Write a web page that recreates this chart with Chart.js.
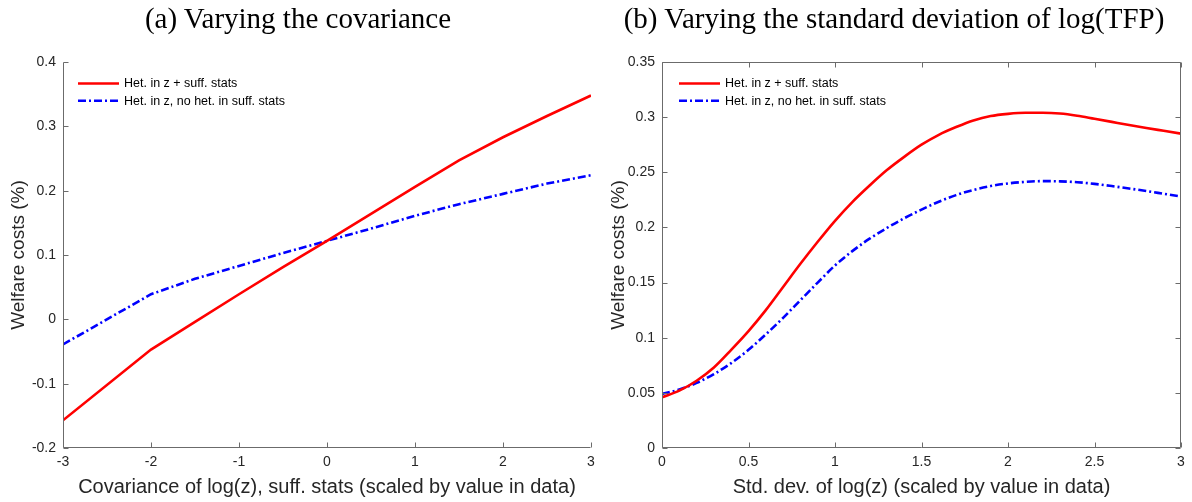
<!DOCTYPE html>
<html>
<head>
<meta charset="utf-8">
<script src="https://cdn.jsdelivr.net/npm/chart.js@4.4.1/dist/chart.umd.min.js"></script>
<style>
  html, body { margin: 0; padding: 0; background: #fff; }
  #figura { position: relative; width: 1192px; height: 502px; overflow: hidden; }
  .panel { position: absolute; top: 0; height: 502px; }
  .titulo { position: absolute; top: 0; width: 596px; text-align: center; font-family: "Liberation Serif", "Times New Roman", serif; font-size: 29px; line-height: 36px; color: #000; }
</style>
</head>
<body>
<div id="figura">
  <div class="panel" style="left:0; width:602px"><canvas id="graficaCov" width="602" height="502"></canvas></div>
  <div class="panel" style="left:596px; width:596px"><canvas id="graficaStd" width="596" height="502"></canvas></div>
  <div class="titulo" style="left:0">(a) Varying the covariance</div>
  <div class="titulo" style="left:596px">(b) Varying the standard deviation of log(TFP)</div>
</div>
<script>
// --- DATOS ---
const LABEL_SUFF = 'Het. in z + suff. stats';
const LABEL_NOSUFF = 'Het. in z, no het. in suff. stats';

// (a) covarianza
const covX = [-3, -2, -1.5, -1, -0.5, 0, 0.5, 1, 1.5, 2, 2.5, 3];
const covHetSuff = [-0.157, -0.047, -0.004, 0.039, 0.081, 0.122, 0.164, 0.206, 0.247, 0.283, 0.316, 0.348];
const covHetNoSuff = [-0.039, 0.039, 0.063, 0.083, 0.103, 0.122, 0.141, 0.161, 0.179, 0.195, 0.211, 0.224];

// (b) desviación estándar
const stdX = [0, 0.1, 0.2, 0.3, 0.4, 0.5, 0.6, 0.7, 0.8, 0.9, 1, 1.1, 1.2, 1.3, 1.4, 1.5,
              1.6, 1.7, 1.8, 1.9, 2, 2.1, 2.2, 2.3, 2.4, 2.5, 2.6, 2.7, 2.8, 2.9, 3];
const stdHetSuff = [0.046, 0.052, 0.061, 0.073, 0.089, 0.106, 0.125, 0.146, 0.167, 0.187, 0.206,
                    0.223, 0.238, 0.252, 0.264, 0.275, 0.284, 0.291, 0.297, 0.301, 0.303,
                    0.304, 0.304, 0.3033, 0.3013, 0.2985, 0.2957, 0.2929, 0.2902, 0.2876, 0.285];
const stdHetNoSuff = [0.049, 0.053, 0.059, 0.067, 0.077, 0.089, 0.103, 0.118, 0.134, 0.150, 0.1655,
                      0.1785, 0.1898, 0.1995, 0.2083, 0.2162, 0.2233, 0.2293, 0.2340, 0.2375, 0.2399,
                      0.2413, 0.242, 0.2418, 0.241, 0.2395, 0.2375, 0.2353, 0.233, 0.2305, 0.228];

// --- ESTILO ---
const FUENTE = '"Liberation Sans", Arial, Helvetica, sans-serif';
const GRIS_TEXTO = '#262626';
const GRIS_EJE = '#6b6b6b';
Chart.defaults.font.family = FUENTE;
Chart.defaults.color = GRIS_TEXTO;

const formatoTick = v => String(+(+v).toFixed(2));

// Ejes estilo MATLAB (ticks hacia dentro) + leyenda dentro del área
const ejesMatlab = {
    id: 'ejesMatlab',
    afterDatasetsDraw(chart, args, opts) {
        const { ctx, chartArea: a, scales: { x, y } } = chart;
        const L = Math.round(a.left) + 0.5, R = Math.round(a.right) - 0.5;
        const T = Math.round(a.top) + 0.5, B = Math.round(a.bottom) - 0.5;
        const tl = 5;
        ctx.save();
        ctx.strokeStyle = GRIS_EJE;
        ctx.lineWidth = 1;
        ctx.beginPath();
        ctx.moveTo(L, T); ctx.lineTo(L, B); ctx.lineTo(R, B);
        if (opts.caja) { ctx.lineTo(R, T); ctx.lineTo(L, T); }
        x.ticks.forEach(t => {
            const px = Math.round(x.getPixelForValue(t.value)) + 0.5;
            ctx.moveTo(px, B); ctx.lineTo(px, B - tl);
            if (opts.caja) { ctx.moveTo(px, T); ctx.lineTo(px, T + tl); }
        });
        y.ticks.forEach(t => {
            const py = Math.round(y.getPixelForValue(t.value)) + 0.5;
            ctx.moveTo(L, py); ctx.lineTo(L + tl, py);
            if (opts.caja) { ctx.moveTo(R, py); ctx.lineTo(R - tl, py); }
        });
        ctx.stroke();

        // leyenda
        ctx.font = '12.5px ' + FUENTE;
        ctx.textBaseline = 'middle';
        ctx.textAlign = 'left';
        chart.data.datasets.forEach((ds, i) => {
            const yy = a.top + 21.5 + i * 17.3;
            const x0 = a.left + opts.leyendaX;
            ctx.strokeStyle = ds.borderColor;
            ctx.lineWidth = ds.borderWidth;
            ctx.setLineDash(ds.borderDash || []);
            ctx.beginPath();
            ctx.moveTo(x0, yy); ctx.lineTo(x0 + 41, yy);
            ctx.stroke();
            ctx.setLineDash([]);
            ctx.fillStyle = '#000';
            ctx.fillText(ds.label, x0 + 46, yy + 0.5);
        });
        ctx.restore();
    }
};

function crearGrafica(id, xs, serieA, serieB, cfg) {
    const puntos = s => xs.map((x, i) => ({ x, y: s[i] }));
    return new Chart(document.getElementById(id), {
        type: 'line',
        data: {
            datasets: [{
                label: LABEL_SUFF,
                data: puntos(serieA),
                borderColor: '#ff0000',
                borderWidth: 2.6,
                pointRadius: 0,
                cubicInterpolationMode: cfg.suave ? 'monotone' : 'default',
                tension: 0
            }, {
                label: LABEL_NOSUFF,
                data: puntos(serieB),
                borderColor: '#0000ff',
                borderWidth: 2.6,
                borderDash: [8, 3, 2, 3],
                pointRadius: 0,
                cubicInterpolationMode: cfg.suave ? 'monotone' : 'default',
                tension: 0
            }]
        },
        options: {
            responsive: false,
            animation: false,
            events: [],
            layout: { padding: { top: 62, right: cfg.padDer, left: 0, bottom: 0 } },
            plugins: {
                legend: { display: false },
                tooltip: { enabled: false },
                ejesMatlab: { caja: cfg.caja, leyendaX: cfg.leyendaX }
            },
            scales: {
                x: {
                    type: 'linear',
                    min: cfg.xMin, max: cfg.xMax,
                    grid: { display: false, drawTicks: false },
                    border: { display: false },
                    ticks: { stepSize: cfg.xPaso, padding: 6, maxRotation: 0, autoSkip: false,
                             font: { size: 14 }, color: GRIS_TEXTO, callback: formatoTick },
                    title: { display: true, text: cfg.xTitulo, font: { size: 20 }, color: GRIS_TEXTO,
                             padding: { top: 0, bottom: 3 } },
                    afterFit: s => { s.height = 54; }
                },
                y: {
                    min: cfg.yMin, max: cfg.yMax,
                    grid: { display: false, drawTicks: false },
                    border: { display: false },
                    ticks: { stepSize: cfg.yPaso, padding: 7, font: { size: 14 }, color: GRIS_TEXTO,
                             callback: formatoTick },
                    title: { display: true, text: 'Welfare costs (%)', font: { size: 19 }, color: GRIS_TEXTO,
                             padding: { top: cfg.padTituloY, bottom: 0 } },
                    afterFit: s => { s.width = cfg.anchoY; }
                }
            }
        },
        plugins: [ejesMatlab]
    });
}

const graficaCov = crearGrafica('graficaCov', covX, covHetSuff, covHetNoSuff, {
    suave: false, caja: false, padDer: 11, anchoY: 63, padTituloY: 7, leyendaX: 15,
    xMin: -3, xMax: 3, xPaso: 1, yMin: -0.2, yMax: 0.4, yPaso: 0.1,
    xTitulo: 'Covariance of log(z), suff. stats (scaled by value in data)'
});

const graficaStd = crearGrafica('graficaStd', stdX, stdHetSuff, stdHetNoSuff, {
    suave: true, caja: true, padDer: 11, anchoY: 66, padTituloY: 11.5, leyendaX: 17,
    xMin: 0, xMax: 3, xPaso: 0.5, yMin: 0, yMax: 0.35, yPaso: 0.05,
    xTitulo: 'Std. dev. of log(z) (scaled by value in data)'
});
</script>
</body>
</html>
